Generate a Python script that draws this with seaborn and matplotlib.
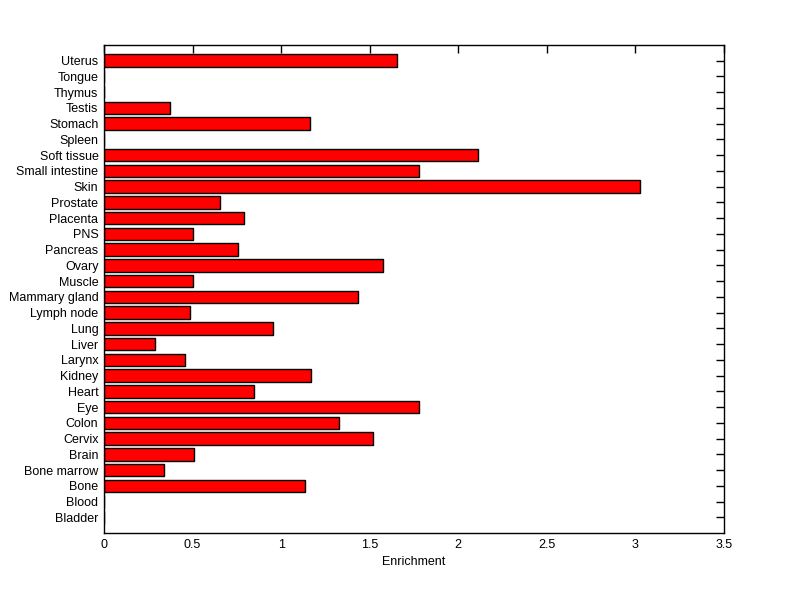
import matplotlib
matplotlib.use("Agg")
import matplotlib.pyplot as plt
import seaborn as sns
import pandas as pd

# tissues listed top to bottom as in the figure
tissues = ['Uterus', 'Tongue', 'Thymus', 'Testis', 'Stomach', 'Spleen', 'Soft tissue',
           'Small intestine', 'Skin', 'Prostate', 'Placenta', 'PNS', 'Pancreas', 'Ovary',
           'Muscle', 'Mammary gland', 'Lymph node', 'Lung', 'Liver', 'Larynx', 'Kidney',
           'Heart', 'Eye', 'Colon', 'Cervix', 'Brain', 'Bone marrow', 'Bone', 'Blood', 'Bladder']
enrichment = [1.654, 0.0, 0.0, 0.373, 1.163, 0.0, 2.112,
              1.779, 3.027, 0.655, 0.790, 0.503, 0.757, 1.575,
              0.503, 1.434, 0.486, 0.954, 0.288, 0.457, 1.169,
              0.847, 1.779, 1.327, 1.519, 0.508, 0.339, 1.135, 0.0, 0.0]

df = pd.DataFrame({'Tissue': tissues, 'Enrichment': enrichment})

sns.set_style("white")
plt.rcParams['font.family'] = ['Liberation Sans', 'DejaVu Sans']
plt.rcParams['text.color'] = 'black'
plt.rcParams['axes.labelcolor'] = 'black'
plt.rcParams['xtick.color'] = 'black'
plt.rcParams['ytick.color'] = 'black'

fig = plt.figure(figsize=(8, 5.99), dpi=100)
ax = fig.add_axes([0.13, 0.110, 0.775, 0.815])

sns.barplot(data=df, x='Enrichment', y='Tissue', orient='h', color='#ff0000',
            saturation=1, width=0.8, edgecolor='black', linewidth=1, ax=ax)

ax.set_xlim(0, 3.5)
ax.set_ylim(30, -1)
ax.set_xticks([0, 0.5, 1, 1.5, 2, 2.5, 3, 3.5])
ax.set_xticklabels(['0', '0.5', '1', '1.5', '2', '2.5', '3', '3.5'])
ax.set_xlabel('Enrichment', fontsize=9)
ax.set_ylabel('')
ax.tick_params(axis='both', direction='in', length=6, width=1, labelsize=9,
               top=True, right=True, pad=4)
for s in ax.spines.values():
    s.set_visible(True)
    s.set_color('black')
    s.set_linewidth(1)

fig.savefig('out.png', dpi=100, facecolor='white')
